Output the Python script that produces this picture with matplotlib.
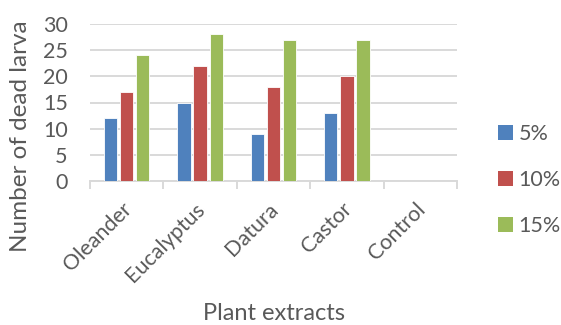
import matplotlib
matplotlib.use("Agg")
import matplotlib.pyplot as plt
import matplotlib.transforms as mtransforms
import numpy as np
from matplotlib.patches import Patch

plt.rcParams['font.family'] = ['Lato', 'DejaVu Sans']

extracts = ["Oleander", "Eucalyptus", "Datura", "Castor", "Control"]
series_names = ["5%", "10%", "15%"]
conc_5 = [12, 15, 9, 13, 0]
conc_10 = [17, 22, 18, 20, 0]
conc_15 = [24, 28, 27, 27, 0]
colors = ["#4f81bd", "#c0504d", "#9bbb59"]
text_color = "#595959"

W, H = 561, 325
fig = plt.figure(figsize=(W / 100, H / 100), dpi=100)
ax = fig.add_axes([90 / W, 1 - 181 / H, 367 / W, 157 / H])

x = np.arange(len(extracts))
width = 0.18
step = 0.22
for i, (vals, c) in enumerate(zip([conc_5, conc_10, conc_15], colors)):
    ax.bar(x + (i - 1) * step, vals, width=width, color=c,
           edgecolor="white", linewidth=0.6, zorder=3)

ax.set_xlim(-0.5, len(extracts) - 0.5)
ax.set_ylim(0, 30)
ax.set_yticks(range(0, 31, 5))
ax.yaxis.grid(True, color="#d9d9d9", linewidth=1.4, zorder=0)
ax.set_axisbelow(True)

for s in ["top", "right", "left"]:
    ax.spines[s].set_visible(False)
ax.spines["bottom"].set_color("#d9d9d9")
ax.spines["bottom"].set_linewidth(1.4)

ax.set_xticks(x)
ax.set_xticklabels(extracts, rotation=45, ha="right", rotation_mode="anchor",
                   fontsize=15.5, color=text_color)
ax.tick_params(axis="x", length=0, pad=13)
shift = mtransforms.ScaledTranslation(-5 / 100, 0, fig.dpi_scale_trans)
for lbl in ax.get_xticklabels():
    lbl.set_transform(lbl.get_transform() + shift)
ax.set_xticks(np.arange(-0.5, len(extracts)), minor=True)
ax.tick_params(axis="x", which="minor", length=6, color="#d9d9d9", width=1.4)
ax.tick_params(axis="y", length=0, labelsize=15.5, labelcolor=text_color, pad=16)

fig.text(21 / W, 1 - 136 / H, "Number of dead larva", rotation=90,
         ha="center", va="center", fontsize=17.5, color=text_color)
fig.text(274 / W, 1 - 314 / H, "Plant extracts",
         ha="center", va="center", fontsize=17, color=text_color)

handles = [Patch(facecolor=c, edgecolor="none") for c in colors]
leg = fig.legend(handles, series_names, loc="center left",
                 bbox_to_anchor=(498 / W, 1 - 180 / H), frameon=False,
                 fontsize=15.5, labelspacing=1.2, handlelength=0.7,
                 handleheight=0.7, handletextpad=0.25, borderaxespad=0,
                 borderpad=0)
for t in leg.get_texts():
    t.set_color(text_color)

fig.savefig("out.png", dpi=100)
